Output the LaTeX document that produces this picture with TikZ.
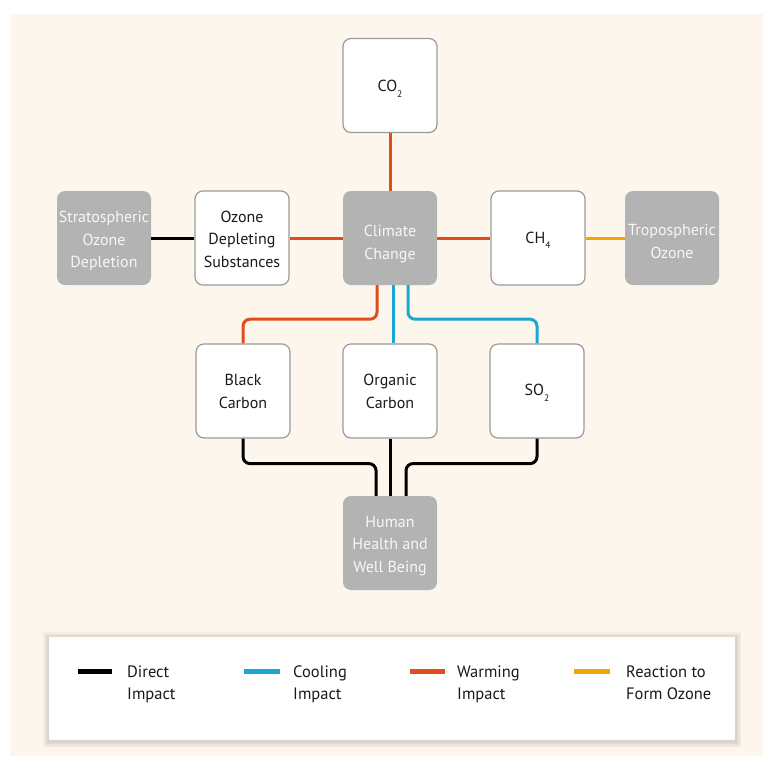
\documentclass[tikz,border=0pt]{standalone}
\usepackage{fontspec}
\setmainfont{PT Sans}
\usetikzlibrary{calc}
\definecolor{cream}{HTML}{FDF6EC}
\definecolor{boxgray}{HTML}{B3B3B3}
\definecolor{bordergray}{HTML}{9A9A9A}
\definecolor{warm}{HTML}{E04F1B}
\definecolor{cool}{HTML}{1AA7D4}
\definecolor{react}{HTML}{F4A600}
\definecolor{ink}{HTML}{1A1A1A}
\definecolor{paletext}{HTML}{F7F7F7}
\newcommand\tx[2]{\raisebox{-#1}[\height][\depth]{\begin{tabular}{@{}c@{}}#2\end{tabular}}}
\newcommand\sub[1]{\raisebox{-5.5pt}[0pt][0pt]{\fontsize{9.5}{9.5}\selectfont #1}}
\begin{document}
\begin{tikzpicture}[x=1pt,y=-1pt,
  base/.style={minimum width=94pt, minimum height=94pt, rounded corners=8pt,
    font=\fontsize{16}{22.5}\selectfont, inner sep=0pt},
  whitebox/.style={base, fill=white, draw=bordergray, line width=1.2pt, text=ink},
  graybox/.style={base, fill=boxgray, text=paletext},
  link/.style={line width=3pt, rounded corners=7pt},
  legline/.style={line width=5pt},
  legtext/.style={anchor=west, align=left, font=\fontsize{16.5}{22}\selectfont, text=ink, inner sep=0pt}]
\useasboundingbox (0,0) rectangle (763,756);
\fill[cream] (10,14) rectangle (763,756);

% nodes
\node[whitebox] (co2)  at (390,85.5) {\tx{1.5pt}{CO\sub{2}}};
\node[graybox]  (sod)  at (104,238) {\tx{2.5pt}{Stratospheric\\Ozone\\Depletion}};
\node[whitebox] (ods)  at (242,238) {\tx{2pt}{Ozone\\Depleting\\Substances}};
\node[graybox]  (cc)   at (390,238) {\tx{5.5pt}{Climate\\Change}};
\node[whitebox] (ch4)  at (538,238) {\tx{0.5pt}{CH\sub{4}}};
\node[graybox]  (trop) at (672,238) {\tx{4.5pt}{Tropospheric\\Ozone}};
\node[whitebox] (bc)   at (243,391) {\tx{1.5pt}{Black\\Carbon}};
\node[whitebox] (oc)   at (390,391) {\tx{1.5pt}{Organic\\Carbon}};
\node[whitebox] (so2)  at (537,391) {\tx{0pt}{SO\sub{2}}};
\node[graybox]  (hh)   at (390,543) {\tx{2pt}{Human\\Health and\\Well Being}};

% connectors
\draw[link,warm] (co2) -- (cc);
\draw[link,black] (sod) -- (ods);
\draw[link,warm] (ods) -- (cc);
\draw[link,warm] (cc) -- (ch4);
\draw[link,react] (ch4) -- (trop);
\draw[link,warm] ($(cc.south)+(-13,0)$) -- ++(0,34) -| (bc.north);
\draw[link,cool] ($(cc.south)+(3,0)$) -- ($(oc.north)+(3,0)$);
\draw[link,cool] ($(cc.south)+(18,0)$) -- ++(0,34) -| (so2.north);
\draw[link,black] (bc.south) -- ++(0,25) -| ($(hh.north)+(-14,0)$);
\draw[link,black] (oc.south) -- (hh.north);
\draw[link,black] (so2.south) -- ++(0,25) -| ($(hh.north)+(16,0)$);

% legend shadow and box
\foreach \s in {6,4.5,3,1.5}
  \fill[black, opacity=0.035] (49-\s,637-\s+1) rectangle (735+\s,740+\s+1);
\node[fill=white, minimum width=686pt, minimum height=103pt, inner sep=0pt]
  (legend) at (392,688.5) {};
\coordinate (d1) at (78,671);  \coordinate (d2) at (112,671);
\coordinate (c1) at (244,671); \coordinate (c2) at (280,671);
\coordinate (w1) at (410,671); \coordinate (w2) at (445,671);
\coordinate (r1) at (574,671); \coordinate (r2) at (610,671);
\draw[legline,black] (d1) -- (d2);
\draw[legline,cool]  (c1) -- (c2);
\draw[legline,warm]  (w1) -- (w2);
\draw[legline,react] (r1) -- (r2);
\node[legtext] (t1) at (127,684) {Direct\strut\\Impact\strut};
\node[legtext] (t2) at (293,684) {Cooling\strut\\Impact\strut};
\node[legtext] (t3) at (457,684) {Warming\strut\\Impact\strut};
\node[legtext] (t4) at (626,684) {Reaction to\strut\\Form Ozone\strut};
\end{tikzpicture}
\end{document}
